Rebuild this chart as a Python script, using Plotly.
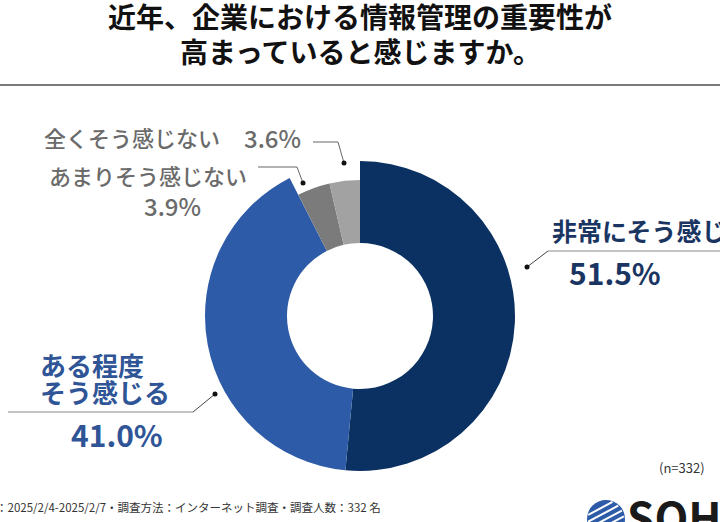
import math
import plotly.graph_objects as go

# survey answers (n=332)
categories = ["非常にそう感じる", "ある程度そう感じる", "あまりそう感じない", "全くそう感じない"]
shares = [51.5, 41.0, 3.9, 3.6]
sample_size = 332

title_lines = ["近年、企業における情報管理の重要性が", "高まっていると感じますか。"]
footer = "調査期間：2025/2/4-2025/2/7・調査方法：インターネット調査・調査人数：332 名"

W, H = 720, 522
FONT = "Noto Sans CJK JP"
slice_colors = ["#0b3162", "#2e5ba7", "#7b7b7b", "#a2a2a2"]


def px(x):
    return x / W


def py(y):
    return 1 - y / H


def domain(cx, cy, r):
    return dict(x=[px(cx - r), px(cx + r)], y=[py(cy + r), py(cy - r)])


cx, cy = 360, 316
r_big, r_small, r_hole = 155, 136, 73

fig = go.Figure()

# outer ring: the two large answers
fig.add_trace(go.Pie(
    labels=categories, values=shares, sort=False, direction="clockwise", rotation=0,
    hole=r_hole / r_big, domain=domain(cx, cy, r_big),
    marker=dict(colors=[slice_colors[0], slice_colors[1], "rgba(0,0,0,0)", "rgba(0,0,0,0)"],
                line=dict(width=0)),
    textinfo="none", showlegend=False, hoverinfo="label+percent",
))
# smaller ring: the two negative answers
fig.add_trace(go.Pie(
    labels=categories, values=shares, sort=False, direction="clockwise", rotation=0,
    hole=r_hole / r_small, domain=domain(cx, cy, r_small),
    marker=dict(colors=["rgba(0,0,0,0)", "rgba(0,0,0,0)", slice_colors[2], slice_colors[3]],
                line=dict(width=0)),
    textinfo="none", showlegend=False, hoverinfo="label+percent",
))

ann = []


def label(text, x, y, size, color, weight=700, xanchor="left", family=FONT):
    ann.append(dict(
        text=text, x=px(x), y=py(y), xref="paper", yref="paper",
        xanchor=xanchor, yanchor="middle", showarrow=False,
        font=dict(family=family, size=size, color=color, weight=weight),
    ))


# title
label(title_lines[0], 360, 16, 28, "#111111", xanchor="center")
label(title_lines[1], 360, 51, 28, "#111111", xanchor="center")

# slice labels
navy_txt, blue_txt, gray_txt = "#1b3562", "#2f5597", "#6b6b6b"
label(categories[0], 550, 230, 25, navy_txt)
label(f"{shares[0]:.1f}%", 567, 272, 30, navy_txt)
label("ある程度", 38, 364, 26, blue_txt)
label("そう感じる", 38, 391, 26, blue_txt)
label(f"{shares[1]:.1f}%", 69, 434, 30, blue_txt)
label(categories[3], 42, 137, 22, gray_txt, weight=500)
label(f"{shares[3]:.1f}%", 242, 137, 24, gray_txt, weight=500)
label(categories[2], 47, 175, 22, gray_txt, weight=500)
label(f"{shares[2]:.1f}%", 142, 205, 24, gray_txt, weight=500)

label(f"(n={sample_size})", 707, 467, 13, "#333333", weight=400, xanchor="right")
label(footer, 383, 507, 11.5, "#333333", weight=400, xanchor="right")
label("SOHO", 625, 516, 44, "#1a1a1a", weight=700)

shapes = []


def seg(x0, y0, x1, y1, color="#666666", width=1):
    shapes.append(dict(type="line", xref="paper", yref="paper",
                       x0=px(x0), y0=py(y0), x1=px(x1), y1=py(y1),
                       line=dict(color=color, width=width)))


def dot(x, y, r=2.5, color="#111111"):
    shapes.append(dict(type="circle", xref="paper", yref="paper",
                       x0=px(x - r), x1=px(x + r), y0=py(y + r), y1=py(y - r),
                       fillcolor=color, line=dict(width=0)))


# header rule
seg(0, 85, W, 85, color="#7a7a7a", width=2)

# leader lines
seg(313, 142, 338, 142); seg(338, 142, 344, 163); dot(344, 163)
seg(258, 167, 297, 167); seg(297, 167, 303, 183); dot(303, 183)
seg(548, 251, 730, 251, color="#8a8a8a"); seg(548, 251, 527, 267, color="#444444"); dot(527, 267)
seg(8, 412, 193, 412, color="#8a8a8a"); seg(193, 412, 215, 394, color="#444444"); dot(215, 394)

# logo sphere with stripes
lx, ly, lr = 606, 519, 19
shapes.append(dict(type="circle", xref="paper", yref="paper",
                   x0=px(lx - lr), x1=px(lx + lr), y0=py(ly + lr), y1=py(ly - lr),
                   fillcolor="#2e5ba7", line=dict(width=0)))
ang = math.radians(28)
ux, uy = math.cos(ang), -math.sin(ang)
nx, ny = -uy, ux
for d in [-12, -6, 0, 6, 12]:
    half = math.sqrt(lr ** 2 - d ** 2) - 1
    mx, my = lx + nx * d, ly + ny * d
    seg(mx - ux * half, my - uy * half, mx + ux * half, my + uy * half, color="white", width=2)

fig.update_layout(
    width=W, height=H,
    margin=dict(l=0, r=0, t=0, b=0),
    paper_bgcolor="white", plot_bgcolor="white",
    font=dict(family=FONT),
    annotations=ann, shapes=shapes,
)

# the page body has a default 8px margin; drop it so the figure sits at the window corner
fig.write_html("out.html", config={"displayModeBar": False},
               post_script="document.body.style.margin='0';")
